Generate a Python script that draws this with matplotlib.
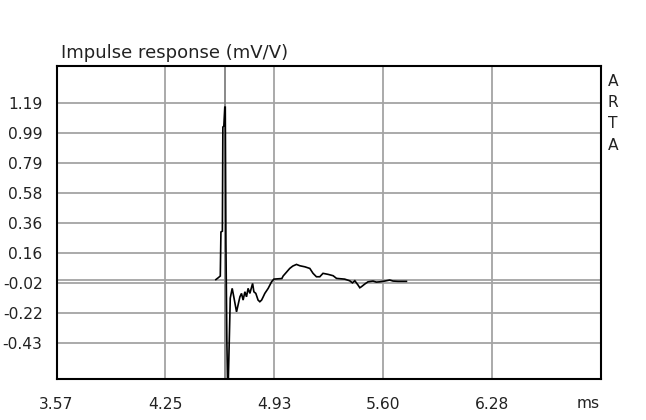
import numpy as np
import matplotlib
matplotlib.use("Agg")
import matplotlib.pyplot as plt

# ---- data ----
time_ms = [4.5615, 4.577, 4.589, 4.593, 4.602, 4.605, 4.611, 4.617, 4.620,
           4.624, 4.630, 4.636, 4.645, 4.651, 4.663, 4.673, 4.690, 4.711,
           4.721, 4.731, 4.742, 4.752, 4.762, 4.773, 4.790, 4.798, 4.810,
           4.824, 4.835, 4.846, 4.856, 4.866, 4.887, 4.908, 4.922, 4.972,
           4.980, 5.001, 5.021, 5.040, 5.063, 5.084, 5.115, 5.146, 5.166,
           5.187, 5.208, 5.228, 5.260, 5.291, 5.312, 5.363, 5.394, 5.411,
           5.426, 5.446, 5.457, 5.467, 5.488, 5.508, 5.539, 5.560, 5.581,
           5.612, 5.643, 5.664, 5.695, 5.747]
response = [0.000, 0.013, 0.024, 0.320, 0.326, 1.026, 1.033, 1.160, 1.160,
            0.245, -0.427, -0.810, -0.406, -0.125, -0.059, -0.116, -0.217, -0.116,
            -0.093, -0.138, -0.082, -0.116, -0.059, -0.093, -0.026, -0.082, -0.093,
            -0.138, -0.149, -0.138, -0.116, -0.093, -0.059, -0.015, 0.003, 0.007,
            0.024, 0.050, 0.075, 0.091, 0.102, 0.093, 0.086, 0.075, 0.042,
            0.019, 0.019, 0.042, 0.035, 0.026, 0.008, 0.003, -0.008, -0.022,
            -0.008, -0.037, -0.055, -0.048, -0.030, -0.015, -0.010, -0.017, -0.015,
            -0.010, -0.003, -0.010, -0.012, -0.012]

x_tick_labels = ["3.57", "4.25", "4.93", "5.60", "6.28"]
y_tick_labels = ["1.19", "0.99", "0.79", "0.58", "0.36", "0.16", "-0.02", "-0.22", "-0.43"]
cursor_ms = 4.617

title = "Impulse response (mV/V)"
x_unit = "ms"
brand = "ARTA"

# ---- figure ----
plt.rcParams['font.family'] = ['DejaVu Sans']
fig = plt.figure(figsize=(6.46, 4.20), dpi=100)
fig.patch.set_facecolor('white')
ax = fig.add_axes([56.5/646, 1 - 379/420, (601 - 56.5)/646, (379 - 66)/420])

x_first, x_last = float(x_tick_labels[0]), float(x_tick_labels[-1])
x_step = (x_last - x_first) / (len(x_tick_labels) - 1)
x_pos = np.linspace(x_first, x_last, len(x_tick_labels))
y_first, y_last = float(y_tick_labels[0]), float(y_tick_labels[-1])
y_pos = np.linspace(y_first, y_last, len(y_tick_labels))
y_step = (y_first - y_last) / (len(y_tick_labels) - 1)

ax.set_xlim(x_first, x_first + 5 * x_step)
ax.set_ylim(y_last - 1.18 * y_step, y_first + 1.22 * y_step)

grid_col = '#a4a4a4'
for xv in x_pos[1:]:
    ax.axvline(xv, color=grid_col, lw=1.3, zorder=1)
for yv in y_pos:
    ax.axhline(yv, color=grid_col, lw=1.3, zorder=1)
ax.axhline(0.0, color=grid_col, lw=1.3, zorder=1)
ax.axvline(cursor_ms, color='#808080', lw=1.3, zorder=1)

ax.plot(time_ms, response, color='black', lw=1.2, zorder=3, solid_joinstyle='miter')

ax.set_xticks(x_pos)
ax.set_xticklabels(x_tick_labels)
ax.set_yticks(y_pos)
ax.set_yticklabels(y_tick_labels)
ax.tick_params(length=0, labelsize=11.2, colors='#222222')
ax.tick_params(axis='y', pad=10)
ax.tick_params(axis='x', pad=13)
for s in ax.spines.values():
    s.set_linewidth(1.5)
    s.set_color('black')
ax.set_facecolor('white')

fig.text(61/646, 1 - 58.5/420, title, fontsize=13, color='#222222', va='baseline', ha='left')
fig.text(588/646, 1 - 403/420, x_unit, fontsize=11.2, color='#222222', va='center', ha='center')
for i, ch in enumerate(brand):
    fig.text(613/646, 1 - (81 + i * 21.5)/420, ch, fontsize=11.2, color='#222222',
             va='center', ha='center')

fig.savefig('out.png', dpi=100, facecolor='white')
